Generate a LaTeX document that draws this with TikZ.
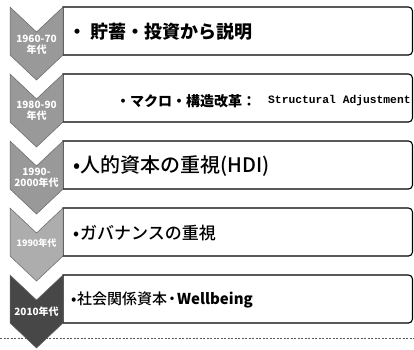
\documentclass[tikz,border=0pt]{standalone}
\usepackage{fontspec}
\newfontfamily\jp{Noto Sans CJK JP}
\newfontfamily\jpm{Noto Sans CJK JP}[UprightFont={* Medium}]
\newfontfamily\mono{Liberation Mono}
\begin{document}
\begin{tikzpicture}[x=1pt,y=-1pt]
\useasboundingbox (0,0) rectangle (414,349);
\fill[white] (0,0) rectangle (414,349);
\tikzset{
 boxline/.style={draw=black, line width=1.1pt},
 chev/.style={draw=black!60, line width=0.5pt},
 lab/.style={text=white, font=\jp\bfseries\fontsize{10}{11}\selectfont, align=center, inner sep=0pt},
 item/.style={anchor=west, inner sep=0pt, font=\jp\bfseries}
}
\newcommand\bul{\makebox[7pt][l]{•}}
\draw[black!65, dash pattern=on 2pt off 1.5pt, line width=0.6pt] (0,338) -- (414,338);
\foreach \t in {7,74,141,208,275}{
  \draw[boxline] (63,\t+48) -- (63,\t) -- (200,\t) {[rounded corners=4pt] -- (412.5,\t) -- (412.5,\t+48) -- (200,\t+48)} -- cycle;
}
\foreach \t/\c in {7/black!40,74/black!40,141/black!40,208/black!32,275/black!72}{
  \draw[chev, fill=\c] (10,\t) -- (36.5,\t+25) -- (63,\t) -- (63,\t+48) -- (36.5,\t+73) -- (10,\t+48) -- cycle;
}
\node[lab] (c1) at (36.5,45) {1960-70\\年代};
\node[lab] (c2) at (36.5,111) {1980-90\\年代};
\node[lab] (c3) at (36.5,178) {1990-\\2000年代};
\node[lab, font=\jp\bfseries\fontsize{9}{10}\selectfont] (c4) at (36.5,243) {1990年代};
\node[lab] (c5) at (36.5,312) {2010年代};
\node[item, font=\jp\bfseries\fontsize{18}{20}\selectfont] (t1) at (68,32) {・ 貯蓄・投資から説明};
\node[item, font=\jp\bfseries\fontsize{14}{16}\selectfont] (t2) at (116,101) {・マクロ・構造改革：};
\node[item, font=\mono\bfseries\fontsize{11.3}{13}\selectfont] (t2b) at (268,101) {Structural Adjustment};
\node[item, font=\jpm\fontsize{20}{22}\selectfont] (t3) at (73,166) {\bul 人的資本の重視(HDI)};
\node[item, font=\jpm\fontsize{17}{20}\selectfont] (t4) at (73,233) {\bul ガバナンスの重視};
\node[item, font=\jpm\fontsize{15}{17}\selectfont] (t5) at (71,300) {\makebox[6pt][l]{•}社会関係資本\makebox[10pt][c]{・}{\jp\bfseries Wellbeing}};
\end{tikzpicture}
\end{document}
